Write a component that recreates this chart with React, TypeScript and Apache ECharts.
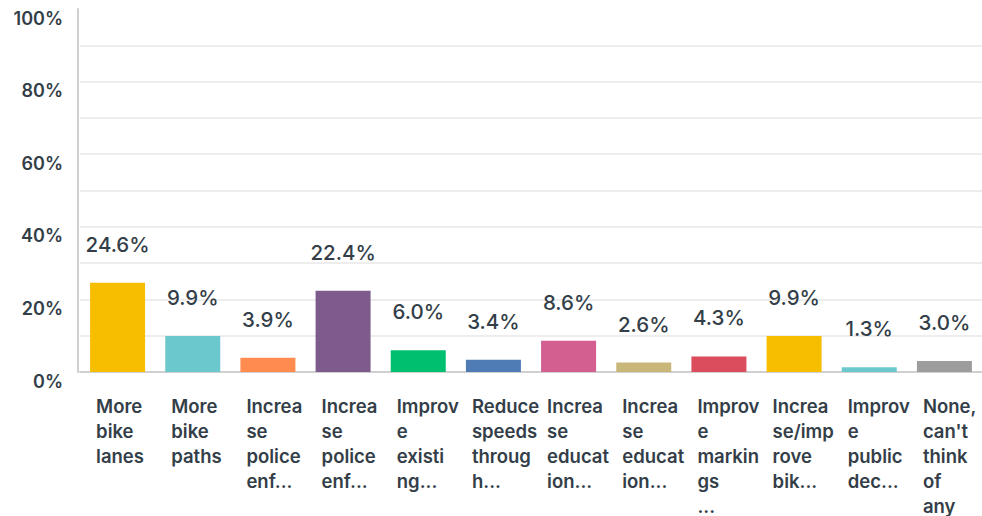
import React, { useEffect, useRef } from "react";
import * as echarts from "echarts";

const categoryLabels: string[] = [
  "More\nbike\nlanes",
  "More\nbike\npaths",
  "Increa\nse\npolice\nenf...",
  "Increa\nse\npolice\nenf...",
  "Improv\ne\nexisti\nng...",
  "Reduce\nspeeds\nthroug\nh...",
  "Increa\nse\neducat\nion...",
  "Increa\nse\neducat\nion...",
  "Improv\ne\nmarkin\ngs\n...",
  "Increa\nse/imp\nrove\nbik...",
  "Improv\ne\npublic\ndec...",
  "None,\ncan't\nthink\nof\nany",
];
const values: number[] = [24.6, 9.9, 3.9, 22.4, 6.0, 3.4, 8.6, 2.6, 4.3, 9.9, 1.3, 3.0];
const barColors: string[] = [
  "#F7BE00", "#6BC8CD", "#FF8B4F", "#7D5C8D", "#00BF6F", "#507CB6",
  "#D25F90", "#C9B77A", "#DB4D5C", "#F7BE00", "#6BC8CD", "#9D9D9D",
];
const yTicks: number[] = [0, 20, 40, 60, 80, 100];

const FONT = "Inter, 'Open Sans', sans-serif";
const TEXT = "#333E48";

export default function App() {
  const ref = useRef<HTMLDivElement>(null);
  useEffect(() => {
    document.body.style.margin = "0";
    if (!ref.current) return;
    const chart = echarts.init(ref.current, null, { renderer: "svg" });
    chart.setOption({
      animation: false,
      grid: { left: 80, right: 0, top: 9, bottom: 144, containLabel: false },
      xAxis: {
        type: "category",
        data: categoryLabels.map((_, i) => String(i)),
        axisLine: { show: true, lineStyle: { color: "#D0D0D0", width: 2 } },
        axisTick: { show: false },
        axisLabel: {
          interval: 0,
          margin: 21,
          align: "center",
          verticalAlign: "top",
          formatter: (v: string) =>
            categoryLabels[Number(v)].split("\n").map((l) => `{a|${l}}`).join("\n"),
          rich: {
            a: {
              width: 43,
              align: "left",
              fontFamily: FONT,
              fontSize: 18.5,
              fontWeight: 600,
              lineHeight: 25,
              color: TEXT,
            },
          },
        },
      },
      yAxis: {
        type: "value",
        min: 0,
        max: 100,
        interval: 10,
        offset: 2,
        axisLine: { show: true, lineStyle: { color: "#D0D0D0", width: 2 } },
        axisTick: { show: false },
        splitLine: { show: true, showMaxLine: false, lineStyle: { color: "#EDEDED", width: 2 } },
        axisLabel: {
          margin: 15,
          verticalAlign: "top",
          fontFamily: FONT,
          fontSize: 18,
          fontWeight: 600,
          color: TEXT,
          formatter: (v: number) => (yTicks.includes(v) ? `${v}%` : ""),
        },
      },
      series: [
        {
          type: "bar",
          barWidth: 55,
          data: values.map((v, i) => ({ value: v, itemStyle: { color: barColors[i] } })),
          label: {
            show: true,
            position: "top",
            distance: 28,
            fontFamily: FONT,
            fontSize: 20.5,
            fontWeight: 500,
            color: TEXT,
            formatter: (p: any) => `${Number(p.value).toFixed(1)}%`,
          },
        },
      ],
    });
    return () => chart.dispose();
  }, []);
  return <div ref={ref} style={{ width: 982, height: 516 }} />;
}
